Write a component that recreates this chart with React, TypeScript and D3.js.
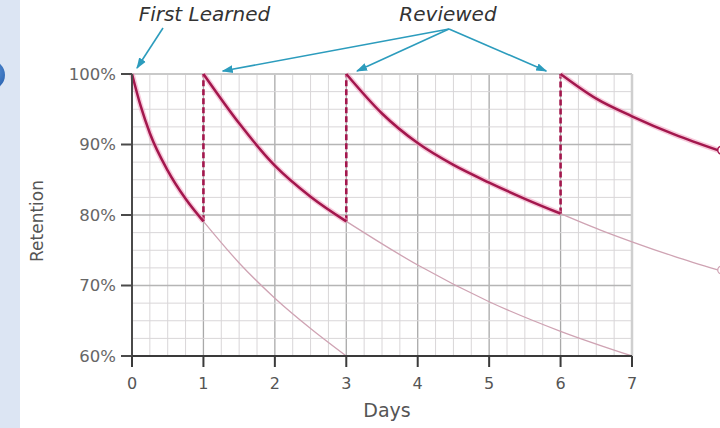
import React from "react";
import * as d3 from "d3";

// days on the x axis, retention (%) on the y axis
const dayTicks = [0, 1, 2, 3, 4, 5, 6, 7];
const retentionTicks = [60, 70, 80, 90, 100];

// bold segments: forgetting curve after learning and after each review
const firstCurve: [number, number][] = [[0, 100], [0.12, 95.5], [0.25, 91.6], [0.5, 86.3], [0.75, 82.3], [1, 79.1]];
const review1Curve: [number, number][] = [[1, 100], [1.5, 93], [2, 87], [2.5, 82.6], [3, 79.1]];
const review2Curve: [number, number][] = [[3, 100], [3.5, 94.4], [4, 90.2], [4.5, 87.1], [5, 84.6], [5.5, 82.3], [6, 80.2]];
const review3Curve: [number, number][] = [[6, 100], [6.5, 96.5], [7, 94], [7.6, 91.4], [8.2, 89.2]];

// faded continuation when no review happens
const fade1Curve: [number, number][] = [[1, 79.1], [1.5, 73.2], [2, 68.2], [2.5, 63.9], [3, 60]];
const fade2Curve: [number, number][] = [[3, 79.1], [4, 72.9], [5, 67.7], [6, 63.5], [7, 60]];
const fade3Curve: [number, number][] = [[6, 80.2], [6.55, 77.9], [7, 76.2], [7.6, 74.1], [8.2, 72.2]];

const reviewDays = [1, 3, 6];
const reviewLows = [79.1, 79.1, 80.2];

const font = "'DejaVu Sans', Verdana, sans-serif";
const crimson = "#a3174d";
const teal = "#2c9cbd";

export default function App() {
  const width = 720, height = 428;
  const x = d3.scaleLinear().domain([0, 7]).range([132, 632]);
  const y = d3.scaleLinear().domain([60, 100]).range([356, 74]);

  const line = d3.line<[number, number]>()
    .x(d => x(d[0]))
    .y(d => y(d[1]))
    .curve(d3.curveMonotoneX);

  const minorX = d3.range(0, 7.001, 0.25);
  const minorY = d3.range(60, 100.001, 2.5);

  const bold = [firstCurve, review1Curve, review2Curve, review3Curve];
  const faded = [fade1Curve, fade2Curve, fade3Curve];

  return (
    <svg width={width} height={height} style={{ position: "absolute", left: 0, top: 0, background: "#fff" }}>
      <defs>
        <radialGradient id="dot" cx="0.6" cy="0.4" r="0.7">
          <stop offset="0" stopColor="#5d95d8" />
          <stop offset="1" stopColor="#1c55a6" />
        </radialGradient>
        <marker id="arr" viewBox="0 0 10 10" refX="9" refY="5" markerWidth="7" markerHeight="7" orient="auto-start-reverse">
          <path d="M0,1.5 L10,5 L0,8.5 z" fill={teal} />
        </marker>
      </defs>

      {/* left strip */}
      <rect x={0} y={0} width={20} height={height} fill="#dce5f3" />
      <circle cx={-10} cy={75} r={15} fill="url(#dot)" />

      {/* grid */}
      <g>
        {minorX.map((d, i) => (
          <line key={"vx" + i} x1={x(d)} x2={x(d)} y1={y(100)} y2={y(60)}
            stroke={Number.isInteger(d) ? "#a9a9a9" : "#d9d6d8"} strokeWidth={Number.isInteger(d) ? 1.3 : 1} />
        ))}
        {minorY.map((d, i) => (
          <line key={"hy" + i} x1={x(0)} x2={x(7)} y1={y(d)} y2={y(d)}
            stroke={d % 10 === 0 ? "#b5b5b5" : "#d9d6d8"} strokeWidth={d % 10 === 0 ? 1.3 : 1} />
        ))}
        <line x1={x(0)} x2={x(7)} y1={y(100)} y2={y(100)} stroke="#c9c9c9" strokeWidth={2} />
        <line x1={x(7)} x2={x(7)} y1={y(100)} y2={y(60)} stroke="#cfcfcf" strokeWidth={2.5} />
      </g>

      {/* faded continuation curves */}
      {faded.map((c, i) => (
        <path key={"f" + i} d={line(c) || ""} fill="none" stroke="#cfa3b3" strokeWidth={1.3} />
      ))}

      {/* review jumps */}
      {reviewDays.map((d, i) => (
        <line key={"r" + i} x1={x(d)} x2={x(d)} y1={y(reviewLows[i])} y2={y(100)}
          stroke={crimson} strokeWidth={2.6} strokeDasharray="6,3" />
      ))}

      {/* bold curves */}
      {bold.map((c, i) => (
        <g key={"b" + i}>
          <path d={line(c) || ""} fill="none" stroke="#f2a6c3" strokeWidth={5.5} strokeOpacity={0.6} />
          <path d={line(c) || ""} fill="none" stroke={crimson} strokeWidth={2.5} />
        </g>
      ))}

      {/* line-end markers at the right edge */}
      <circle cx={x(8.2) + 4} cy={y(89.2)} r={4} fill="none" stroke={crimson} strokeWidth={1.5} />
      <circle cx={x(8.2) + 4} cy={y(72.2)} r={4} fill="none" stroke="#cfa3b3" strokeWidth={1.2} />

      {/* axes */}
      <line x1={x(0)} x2={x(0)} y1={y(100)} y2={y(60)} stroke="#4a4a4a" strokeWidth={2} />
      <line x1={x(0)} x2={x(7)} y1={y(60)} y2={y(60)} stroke="#3a3a3a" strokeWidth={2.2} />
      {retentionTicks.map(t => (
        <g key={"yt" + t}>
          <line x1={x(0) - 11} x2={x(0)} y1={y(t)} y2={y(t)} stroke="#4a4a4a" strokeWidth={2} />
          <text x={x(0) - 16} y={y(t)} dy="0.36em" textAnchor="end" fontFamily={font} fontSize={16.5} fill="#666">{t}%</text>
        </g>
      ))}
      {dayTicks.map(t => (
        <g key={"xt" + t}>
          <line x1={x(t)} x2={x(t)} y1={y(60)} y2={y(60) + 11} stroke="#3a3a3a" strokeWidth={2} />
          <text x={x(t)} y={y(60) + 27} dy="0.36em" textAnchor="middle" fontFamily={font} fontSize={16} fill="#555">{t}</text>
        </g>
      ))}
      <text x={(x(3) + x(4)) / 2 + 5} y={417} textAnchor="middle" fontFamily={font} fontSize={19} fill="#555">Days</text>
      <text transform={`translate(43,${(y(60) + y(100)) / 2 + 6}) rotate(-90)`} textAnchor="middle"
        fontFamily={font} fontSize={17} fill="#555">Retention</text>

      {/* annotations */}
      <text x={x(1) + 1} y={21} textAnchor="middle" fontFamily={font} fontStyle="italic" fontSize={20} fill="#333">First Learned</text>
      <text x={448} y={21} textAnchor="middle" fontFamily={font} fontStyle="italic" fontSize={20} fill="#333">Reviewed</text>
      <line x1={163} y1={28} x2={x(0) + 5} y2={y(100) - 6} stroke={teal} strokeWidth={1.6} markerEnd="url(#arr)" />
      {[x(1.27), x(3.15), x(5.8)].map((tx, i) => (
        <line key={"a" + i} x1={449} y1={29} x2={tx} y2={y(100) - 3} stroke={teal} strokeWidth={1.6} markerEnd="url(#arr)" />
      ))}
    </svg>
  );
}
